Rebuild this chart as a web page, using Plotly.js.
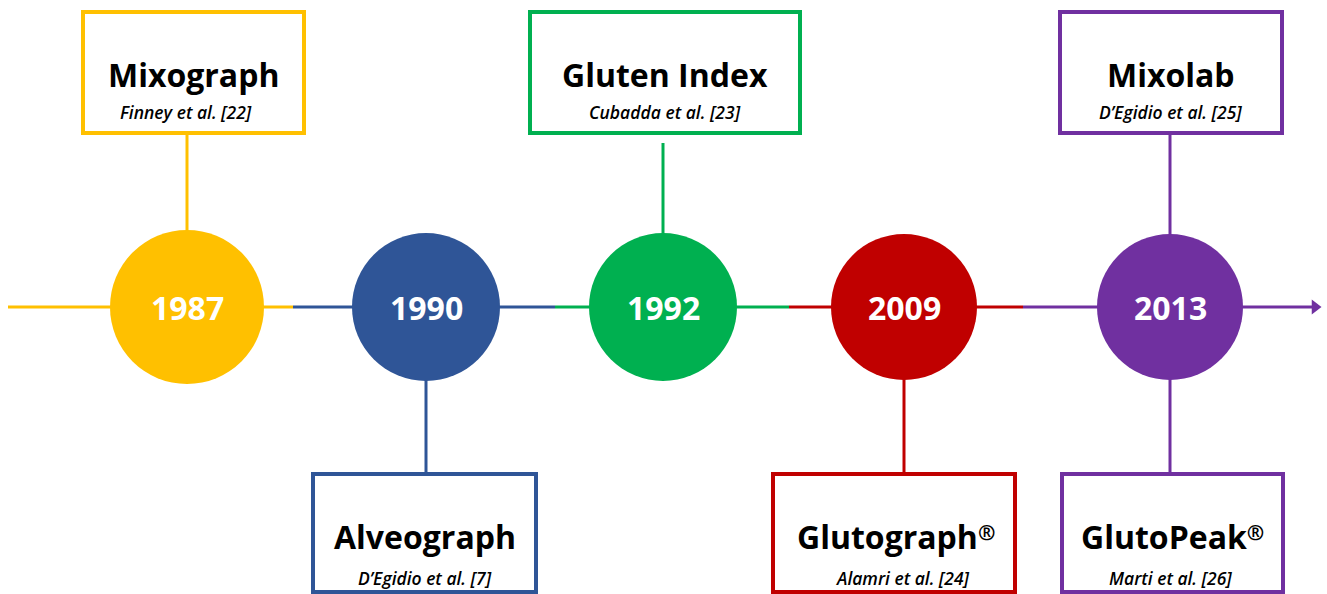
<!DOCTYPE html>
<html><head><meta charset="utf-8">
<script src="https://cdn.plot.ly/plotly-3.0.1.min.js"></script>
<style>html,body{margin:0;padding:0;background:#fff;}#chart{width:1327px;height:594px;}</style>
</head><body><div id="chart"></div>
<script>
// ---- data ----
const years = ['1987', '1990', '1992', '2009', '2013'];
const yearColors = ['#FFC000', '#2F5597', '#00B050', '#C00000', '#7030A0'];
const methods = ['Mixograph', 'Alveograph', 'Gluten Index', 'Glutograph®', 'Mixolab', 'GlutoPeak®'];
const citations = ['Finney et al. [22]', 'D’Egidio et al. [7]', 'Cubadda et al. [23]', 'Alamri et al. [24]', 'D’Egidio et al. [25]', 'Marti et al. [26]'];
const methodYears = ['1987', '1990', '1992', '2009', '2013', '2013'];
const methodSides = ['above', 'below', 'above', 'below', 'above', 'below'];

// ---- layout config (pixel space: x 0..1327, y 0..594 top-down) ----
const W = 1327, H = 594;
const axisY = 307;
const circleX = [187, 426, 663, 904, 1170];
const circleR = [77, 74, 74, 73, 73];
const segBounds = [8, 293, 555, 789, 1023, 1312];
const boxAbove = {y0: 12, y1: 133, textY: 74, citeY: 112};
const boxBelow = {y0: 474, y1: 592, textY: 536, citeY: 578};
const boxX = [[83, 304], [313, 536], [530, 800], [773, 1015], [1060, 1282], [1062, 1283]];
const connGapTop = [0, 0, 10, 0, 0, 0];
const textDx = [0, 0, 0, 2, 0, 0];
const citeDx = [-8, 0, 0, 8, -1, -2];
const FONT = '"Open Sans", Lato, sans-serif';

const shapes = [];
const annotations = [];
const lw = 4;

// timeline segments
years.forEach((y, i) => {
  shapes.push({type: 'line', layer: 'below', x0: segBounds[i], x1: segBounds[i + 1], y0: axisY, y1: axisY,
    line: {color: yearColors[i], width: 3}});
});

// boxes + connectors + text
methods.forEach((m, j) => {
  const yi = years.indexOf(methodYears[j]);
  const col = yearColors[yi];
  const cx = circleX[yi];
  const b = methodSides[j] === 'above' ? boxAbove : boxBelow;
  const [x0, x1] = boxX[j];
  shapes.push({type: 'rect', layer: 'below', x0: x0, x1: x1, y0: b.y0, y1: b.y1,
    line: {color: col, width: lw}, fillcolor: 'rgba(255,255,255,0)'});
  if (methodSides[j] === 'above') {
    shapes.push({type: 'line', layer: 'below', x0: cx, x1: cx, y0: b.y1 + connGapTop[j], y1: axisY - circleR[yi] + 2,
      line: {color: col, width: 3}});
  } else {
    shapes.push({type: 'line', layer: 'below', x0: cx, x1: cx, y0: axisY + circleR[yi] - 2, y1: b.y0,
      line: {color: col, width: 3}});
  }
  annotations.push({x: (x0 + x1) / 2 + textDx[j], y: b.textY, xref: 'x', yref: 'y',
    text: m.replace('®', '<span style="font-size:21px;baseline-shift:45%">®</span>'), showarrow: false,
    font: {family: FONT, size: 32, weight: 'bold', color: '#000'},
    xanchor: 'center', yanchor: 'middle'});
  annotations.push({x: (x0 + x1) / 2 + citeDx[j], y: b.citeY, xref: 'x', yref: 'y', text: citations[j], showarrow: false,
    font: {family: FONT, size: 17.5, weight: 600, style: 'italic', color: '#000'},
    xanchor: 'center', yanchor: 'middle'});
});

// year labels
years.forEach((y, i) => {
  annotations.push({x: circleX[i], y: axisY, xref: 'x', yref: 'y', text: y, showarrow: false,
    font: {family: FONT, size: 32, weight: 'bold', color: '#fff'}, xanchor: 'center', yanchor: 'middle'});
});

const traces = [
  {
    type: 'scatter', mode: 'markers', x: circleX, y: years.map(() => axisY),
    marker: {size: circleR.map(r => 2 * r), color: yearColors, line: {width: 0}, opacity: 1},
    hoverinfo: 'skip', cliponaxis: false
  },
  {
    type: 'scatter', mode: 'markers', x: [segBounds[segBounds.length - 1] + 3], y: [axisY],
    marker: {symbol: 'triangle-right', size: 13, color: yearColors[yearColors.length - 1]},
    hoverinfo: 'skip', cliponaxis: false
  }
];

const layout = {
  width: W, height: H, margin: {l: 0, r: 0, t: 0, b: 0},
  paper_bgcolor: '#fff', plot_bgcolor: '#fff', showlegend: false,
  xaxis: {range: [0, W], visible: false, fixedrange: true},
  yaxis: {range: [H, 0], visible: false, fixedrange: true},
  shapes: shapes, annotations: annotations
};

Plotly.newPlot('chart', traces, layout, {displayModeBar: false, staticPlot: true});
</script></body></html>
